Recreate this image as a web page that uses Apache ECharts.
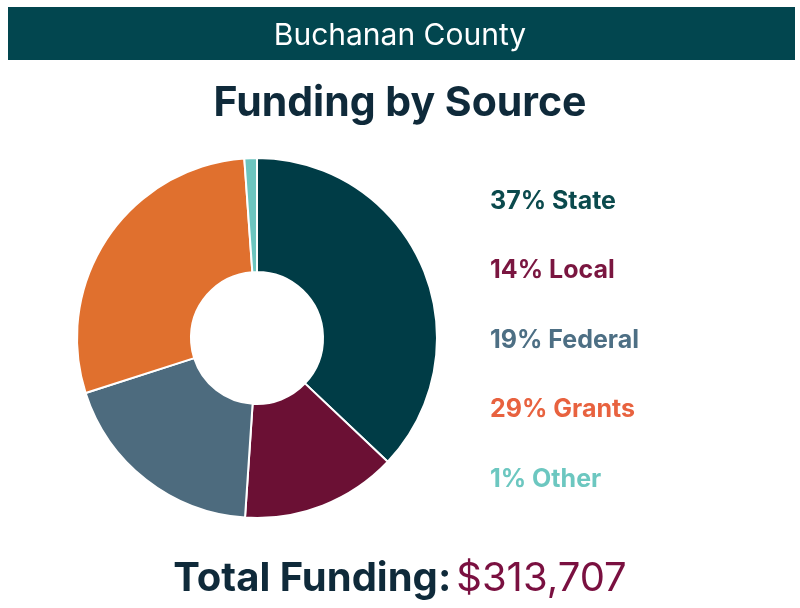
<!DOCTYPE html>
<html>
<head>
<meta charset="utf-8">
<script src="https://cdn.jsdelivr.net/npm/echarts@6/dist/echarts.min.js"></script>
<style>
  html, body { margin: 0; padding: 0; background: #fff; }
  #chart { width: 800px; height: 608px; }
</style>
</head>
<body>
<div id="chart"></div>
<script>
// funding sources, dollars
const sources = ['State', 'Local', 'Federal', 'Grants', 'Other'];
const amounts = [116260, 43920, 59600, 90400, 3527];
const sliceColors = ['#003c46', '#6b1034', '#4d6b7e', '#e0702e', '#6cc5bf'];
const labelColors = ['#0b4a4d', '#7a1640', '#4d6f84', '#e8623f', '#6cc7c0'];
const county = 'Buchanan County';

const total = amounts.reduce((a, b) => a + b, 0);
const pct = {};
sources.forEach((s, i) => { pct[s] = Math.round(amounts[i] / total * 100); });

const font = 'Inter, "Noto Sans", sans-serif';

const chart = echarts.init(document.getElementById('chart'));
chart.setOption({
  backgroundColor: '#fff',
  animation: false,
  graphic: [{
    type: 'rect',
    shape: { x: 8, y: 7, width: 787, height: 53 },
    style: { fill: '#02464f' },
    z: 0
  }],
  title: [
    {
      text: county,
      left: 'center',
      top: 16,
      textStyle: { color: '#fff', fontSize: 30, fontWeight: 'normal', fontFamily: font }
    },
    {
      text: 'Funding by Source',
      left: 'center',
      top: 78,
      textStyle: { color: '#0f2a3a', fontSize: 41, fontWeight: 'bold', fontFamily: font }
    },
    {
      text: '{a|Total Funding:} {b|$' + total.toLocaleString('en-US') + '}',
      left: 'center',
      top: 554,
      textStyle: {
        rich: {
          a: { color: '#0f2a3a', fontSize: 40, fontWeight: 'bold', fontFamily: font },
          b: { color: '#7a1040', fontSize: 40, fontWeight: 'normal', fontFamily: font }
        }
      }
    }
  ],
  legend: {
    orient: 'vertical',
    left: 480,
    top: 183,
    icon: 'none',
    itemWidth: 0,
    itemHeight: 26,
    itemGap: 44,
    selectedMode: false,
    formatter: name => pct[name] + '% ' + name,
    textStyle: { fontSize: 25, fontWeight: 'bold', fontFamily: font },
    data: sources.map((s, i) => ({ name: s, textStyle: { color: labelColors[i] } }))
  },
  series: [{
    type: 'pie',
    center: [257, 338],
    radius: [66, 180],
    startAngle: 90,
    clockwise: true,
    label: { show: false },
    labelLine: { show: false },
    emphasis: { disabled: true },
    itemStyle: { borderColor: '#fff', borderWidth: 2 },
    data: sources.map((s, i) => ({ name: s, value: amounts[i], itemStyle: { color: sliceColors[i] } }))
  }]
});
</script>
</body>
</html>
